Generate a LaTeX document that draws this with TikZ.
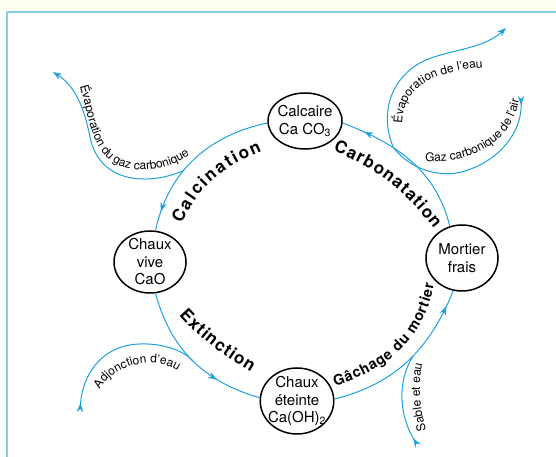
\documentclass[tikz,border=0pt]{standalone}
\usepackage{fontspec}
\setmainfont{TeX Gyre Heros}
\usetikzlibrary{positioning,shapes.geometric,arrows.meta,decorations.markings,decorations.text}
\definecolor{bleu}{RGB}{28,160,222}
\definecolor{cadre}{RGB}{135,205,230}
\newcommand\ftcycle{\bfseries\fontsize{17}{17}\selectfont}
\newcommand\ftgache{\bfseries\fontsize{14.5}{14.5}\selectfont}
\newcommand\ftcote{\fontsize{12}{12}\selectfont}

\begin{document}
\begin{tikzpicture}[x=1pt, y=1pt, line join=round,
    etat/.style={ellipse,draw,line width=1.5pt,inner sep=-3pt,align=center,font=\fontsize{15}{17.5}\selectfont},
    flux/.style={draw=bleu,line width=1pt},
    cyc/.style={flux,postaction={decorate},decoration={markings,mark=at position #1 with {\arrow{Stealth[length=9pt,width=6.5pt]}}}},
    sortie/.style={flux,-{Stealth[length=9pt,width=6.5pt]}},
    entree/.style={flux,{Stealth[length=9pt,width=6.5pt,reversed]}-},
    entreefin/.style={flux,-{Stealth[length=9pt,width=6.5pt,reversed]}},
    etiq/.style={decorate,decoration={text along path,text align={fit to path},text={|\ftcycle|#1}}},
    cote/.style={decorate,decoration={text along path,text align={center},text={|\ftcote|#1}}}]

\useasboundingbox (0,0) rectangle (556,457);
\fill[yellow!5] (0,446) rectangle (556,457);
\draw[cadre,line width=1.5pt] (7,0) |- (556,445);

\node[etat,minimum width=74pt,minimum height=56pt] (calc) at (305,336) {Calcaire\\Ca CO\textsubscript{3}};
\node[etat,minimum width=72pt,minimum height=62pt] (vive) at (150,195) {Chaux\\vive\\CaO};
\node[etat,minimum width=72pt,minimum height=66pt] (mort) at (462,199) {Mortier\\frais};
\node[etat,minimum width=68pt,minimum height=66pt] (etei) at (297,56) {Chaux\\éteinte\\Ca(OH)\textsubscript{2}};

\coordinate (tipA) at (53,385);
\coordinate (tipB1) at (521,361);
\coordinate (tipB2) at (506,429);
\coordinate (tipC) at (80,45);
\coordinate (tipD) at (418,11);

\draw[cyc=0.88] (calc.183) to[out=192,in=78] coordinate[pos=0.6] (j1) (vive.80);
\draw[cyc=0.7] (vive.280) to[out=285,in=164] coordinate[pos=0.5] (j3) (etei.175);
\draw[cyc=0.9] (etei.3) to[out=14,in=248] coordinate[pos=0.55] (j4) (mort.255);
\draw[cyc=0.85] (mort.111) to[out=104,in=339] coordinate[pos=0.65] (j2) (calc.357);

\path[etiq=Calcination] (182,233) to[out=67,in=203] (262,306);
\path[etiq=Carbonatation] (333,306) to[out=-22,in=128] (434,228);
\path[etiq=Extinction] (179,142) to[out=-48,in=148] (251,85);
\path[decorate,decoration={text along path,text align={fit to path},text={|\ftgache|Gâchage du mortier}}] (335,71) to[out=17,in=-100] (434,173);

\draw[sortie] (j1) .. controls (150,272) and (100,272) .. (90,320) .. controls (84,350) and (75,371) .. (tipA);
\draw[entreefin] (j2) .. controls (410,288) and (440,278) .. (465,286) .. controls (500,297) and (522,325) .. (tipB1);
\draw[sortie] (j2) .. controls (382,335) and (385,370) .. (415,391) .. controls (440,408) and (480,405) .. (tipB2);
\draw[entree] (tipC) .. controls (82,80) and (100,112) .. (140,113) .. controls (165,114) and (185,105) .. (j3);
\draw[entree] (tipD) .. controls (400,40) and (396,75) .. (j4);

\path[cote=Évaporation du gaz carbonique] (76,382) .. controls (90,345) and (88,305) .. (120,291) .. controls (150,281) and (180,292) .. (199,310);
\path[cote=Gaz carbonique de l'air] (416,297) .. controls (462,290) and (517,310) .. (520,366);
\path[cote=Évaporation de l'eau] (403,322) .. controls (398,362) and (420,387) .. (494,390);
\path[cote=Adjonction d'eau] (96,58) .. controls (106,94) and (160,106) .. (186,80);
\path[cote=Sable et eau] (428,20) .. controls (419,50) and (417,75) .. (424,100);
\end{tikzpicture}
\end{document}
